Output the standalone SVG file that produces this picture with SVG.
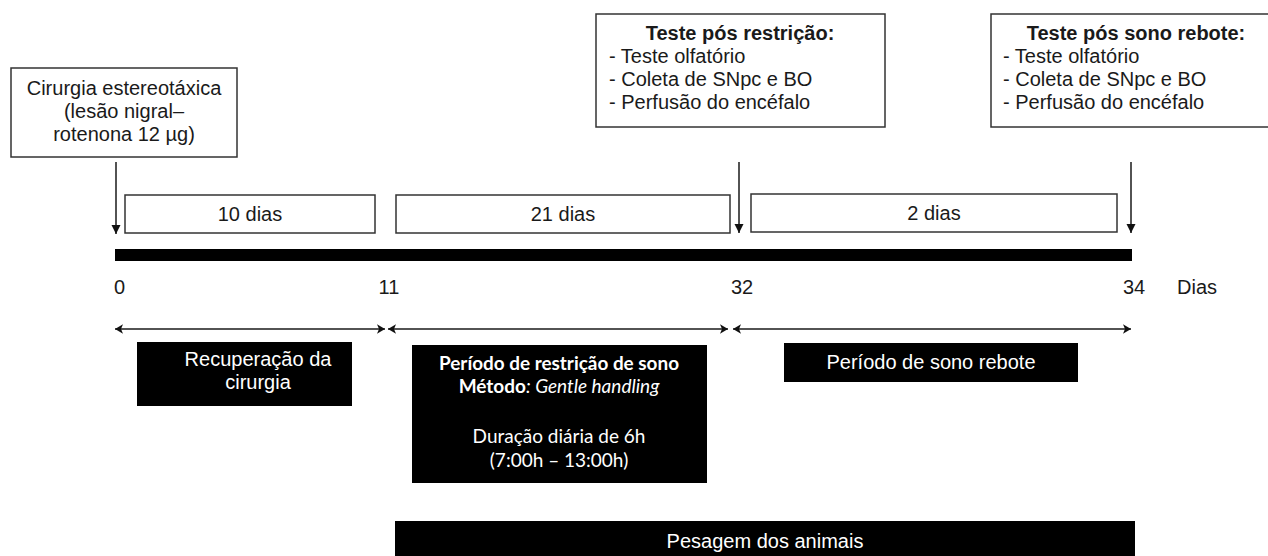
<svg xmlns="http://www.w3.org/2000/svg" width="1268" height="556" viewBox="0 0 1268 556">
<defs>
<marker id="ah" viewBox="0 0 10 10" refX="10" refY="5" markerWidth="9" markerHeight="10" markerUnits="userSpaceOnUse" orient="auto-start-reverse"><path d="M0,0 L10,5 L0,10 z" fill="#111"/></marker>
<marker id="dh" viewBox="0 0 10 12" refX="10" refY="6" markerWidth="8" markerHeight="12" markerUnits="userSpaceOnUse" orient="auto-start-reverse"><path d="M0,0 L10,6 L0,12 L2.5,6 z" fill="#111"/></marker>
</defs>
<style>
.box{fill:#fff;stroke:#333;stroke-width:1.5}
.blk{fill:#000}
.t{font-family:"Liberation Sans",Arial,sans-serif;font-size:20px;fill:#1a1a1a}
.c{text-anchor:middle}
.b{font-weight:bold}
.w{fill:#fff}
.cal{font-family:Lato,"Open Sans",sans-serif;font-size:19px;fill:#fff;text-anchor:middle}
.ln{stroke:#1a1a1a;stroke-width:1.5;fill:none}
</style>
<rect width="1268" height="556" fill="#fff"/>

<g id="cirurgia">
<rect class="box" x="11" y="68" width="226" height="89"/>
<text class="t c" x="124" y="95">Cirurgia estereotáxica</text>
<text class="t c" x="124" y="118">(lesão nigral–</text>
<text class="t c" x="124" y="141">rotenona 12 µg)</text>
</g>

<g id="teste-restricao">
<rect class="box" x="596" y="14" width="289" height="113"/>
<text class="t c b" x="740" y="40">Teste pós restrição:</text>
<text class="t" x="609" y="63">- Teste olfatório</text>
<text class="t" x="609" y="86">- Coleta de SNpc e BO</text>
<text class="t" x="609" y="109">- Perfusão do encéfalo</text>
</g>

<g id="teste-rebote">
<rect class="box" x="991" y="14" width="300" height="113"/>
<text class="t c b" x="1136" y="40">Teste pós sono rebote:</text>
<text class="t" x="1003" y="63">- Teste olfatório</text>
<text class="t" x="1003" y="86">- Coleta de SNpc e BO</text>
<text class="t" x="1003" y="109">- Perfusão do encéfalo</text>
</g>

<g id="dias10">
<rect class="box" x="125" y="195" width="250" height="38"/>
<text class="t c" x="250" y="221">10 dias</text>
</g>
<g id="dias21">
<rect class="box" x="396" y="195" width="334" height="38"/>
<text class="t c" x="563" y="221">21 dias</text>
</g>
<g id="dias2">
<rect class="box" x="751" y="194" width="366" height="38"/>
<text class="t c" x="934" y="220">2 dias</text>
</g>

<g id="timeline">
<rect x="115" y="249" width="1017" height="12" fill="#000"/>
<text class="t" x="114" y="294">0</text>
<text class="t c" x="389" y="294">11</text>
<text class="t c" x="742" y="294">32</text>
<text class="t c" x="1134" y="294">34</text>
<text class="t" x="1177" y="294">Dias</text>
</g>

<g id="recuperacao">
<rect class="blk" x="137" y="342" width="215" height="64"/>
<text class="t c w" x="258" y="366">Recuperação da</text>
<text class="t c w" x="258" y="389">cirurgia</text>
</g>

<g id="restricao">
<rect class="blk" x="412" y="345" width="295" height="138"/>
<text class="cal" x="559" y="370" font-weight="bold" textLength="240" lengthAdjust="spacingAndGlyphs">Período de restrição de sono</text>
<text class="cal" x="559" y="393"><tspan font-weight="bold">Método</tspan><tspan font-style="italic">: Gentle handling</tspan></text>
<text class="cal" x="559" y="443">Duração diária de 6h</text>
<text class="cal" x="559" y="467">(7:00h – 13:00h)</text>
</g>

<g id="sono-rebote">
<rect class="blk" x="784" y="343" width="294" height="39"/>
<text class="t c w" x="931" y="369">Período de sono rebote</text>
</g>

<g id="pesagem">
<rect class="blk" x="395" y="521" width="740" height="40"/>
<text class="t c w" x="765" y="548">Pesagem dos animais</text>
</g>

<g id="connectors">
<line class="ln" x1="116" y1="162" x2="116" y2="234" marker-end="url(#ah)"/>
<line class="ln" x1="739" y1="162" x2="739" y2="233" marker-end="url(#ah)"/>
<line class="ln" x1="1131" y1="162" x2="1131" y2="233" marker-end="url(#ah)"/>
<line class="ln" x1="115" y1="329" x2="385" y2="329" marker-start="url(#dh)" marker-end="url(#dh)"/>
<line class="ln" x1="388" y1="329" x2="728" y2="329" marker-start="url(#dh)" marker-end="url(#dh)"/>
<line class="ln" x1="733" y1="329" x2="1131" y2="329" marker-start="url(#dh)" marker-end="url(#dh)"/>
</g>
</svg>
